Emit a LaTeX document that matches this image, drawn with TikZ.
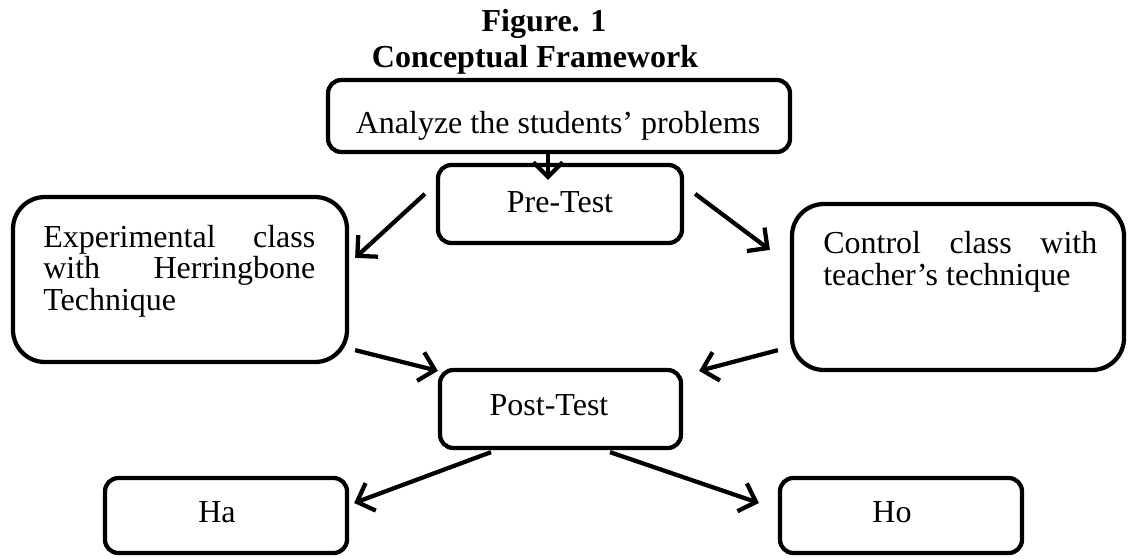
\documentclass[tikz,border=0pt]{standalone}
\usepackage{fontspec}
\setmainfont{Liberation Serif}
\usetikzlibrary{arrows.meta,calc}
\begin{document}
\begin{tikzpicture}[x=0.75pt,y=-0.75pt,
  box/.style={draw,line width=3.2pt,rounded corners=10pt,inner sep=0pt},
  bigbox/.style={box,rounded corners=24pt},
  txt/.style={inner sep=0pt,font=\fontsize{24}{28}\selectfont},
  ttl/.style={inner sep=0pt,font=\fontsize{24}{28}\selectfont\bfseries},
  arr/.style={line width=3.2pt,-{Straight Barb[length=11pt,width=22pt,line width=3.2pt]}}]
\useasboundingbox (0,0) rectangle (1130,558);
% titles
\node[ttl,anchor=base] (title1) at (544,31) {Figure. 1};
\node[ttl,anchor=base] (title2) at (535,67) {Conceptual Framework};
% boxes
\node[box,minimum width=346.5pt,minimum height=54pt] (top) at (559,116) {};
\node[box,minimum width=183pt,minimum height=58.5pt] (pre) at (560,204) {};
\node[bigbox,minimum width=250.5pt,minimum height=123.75pt] (exp) at (180,279.5) {};
\node[bigbox,minimum width=249pt,minimum height=124.5pt] (ctrl) at (958,287) {};
\node[box,minimum width=180.75pt,minimum height=58.5pt] (post) at (560.5,409) {};
\node[box,minimum width=181.5pt,minimum height=56.25pt] (ha) at (226,515.5) {};
\node[box,minimum width=181.5pt,minimum height=56.25pt] (ho) at (901,515.5) {};
% texts
\node[txt,anchor=base] (ttop) at (558,133) {Analyze the students’ problems};
\node[txt,anchor=base] (tpre) at (560,212) {Pre-Test};
\node[txt,anchor=base west] (texp1) at (43,247) {\makebox[204pt][s]{Experimental class}};
\node[txt,anchor=base west] (texp2) at (43,278.5) {\makebox[204pt][s]{with Herringbone}};
\node[txt,anchor=base west] (texp3) at (43,310) {Technique};
\node[txt,anchor=base west] (tctrl1) at (823,253) {\makebox[205.5pt][s]{Control class with}};
\node[txt,anchor=base west] (tctrl2) at (823,285) {teacher’s technique};
\node[txt,anchor=base] (tpost) at (549,415) {Post-Test};
\node[txt,anchor=base] (tha) at (217,522) {Ha};
\node[txt,anchor=base] (tho) at (892,522) {Ho};
% connectors
\draw[arr] ($(top.south)+(-11,0)$) -- ($(pre.north)+(-12,17)$);
\draw[arr] ($(pre.north west)+(-11,31)$) -- ($(exp.north east)+(6,63)$);
\draw[arr] ($(pre.north east)+(11,31)$) -- ($(ctrl.north west)+(-20,48)$);
\draw[arr] ($(exp.south east)+(6,-14)$) -- ($(post.north west)+(0,3)$);
\draw[arr] ($(ctrl.south west)+(-12,-22)$) -- ($(post.north east)+(16,3)$);
\draw[arr] ($(post.south)+(-69.5,2)$) -- ($(ha.east)+(5,-12.5)$);
\draw[arr] ($(post.south)+(49.5,2)$) -- ($(ho.west)+(-19,-12.5)$);
\end{tikzpicture}
\end{document}
